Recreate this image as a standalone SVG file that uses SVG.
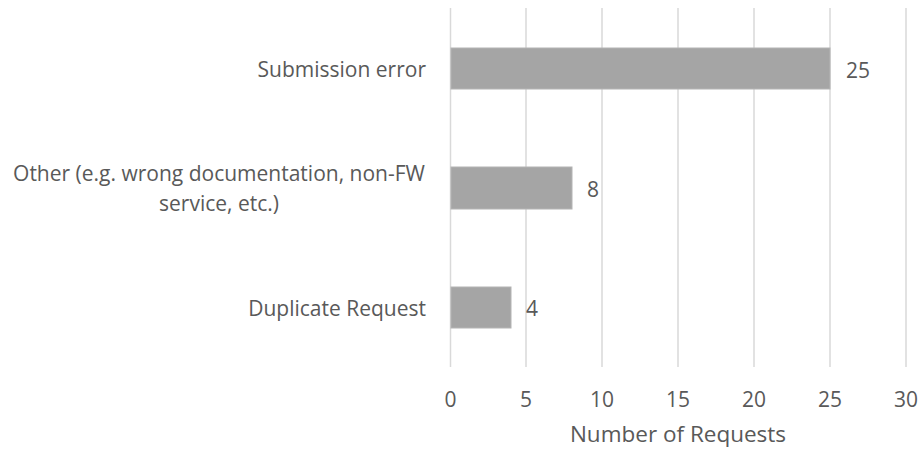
<svg xmlns="http://www.w3.org/2000/svg" width="923" height="452" viewBox="0 0 923 452">
  <style>
    text { font-family: "Open Sans", "Liberation Sans", sans-serif; fill: #595959; }
    .grid { stroke: #d9d9d9; stroke-width: 1.5; }
    .bar { fill: #a5a5a5; stroke: #b4b4b4; stroke-width: 1; }
    .cat { font-size: 21px; text-anchor: end; }
    .mid { text-anchor: middle; }
    .val { font-size: 21px; }
    .tick { font-size: 21px; text-anchor: middle; }
    .title { font-size: 22.5px; text-anchor: middle; }
  </style>
  <rect width="923" height="452" fill="#ffffff"/>

  <!-- vertical gridlines every 5 units (15.2 px per unit) -->
  <g id="gridlines">
    <line class="grid" x1="450.5" y1="8" x2="450.5" y2="367"/>
    <line class="grid" x1="526" y1="8" x2="526" y2="367"/>
    <line class="grid" x1="602" y1="8" x2="602" y2="367"/>
    <line class="grid" x1="678" y1="8" x2="678" y2="367"/>
    <line class="grid" x1="754" y1="8" x2="754" y2="367"/>
    <line class="grid" x1="830" y1="8" x2="830" y2="367"/>
    <line class="grid" x1="906" y1="8" x2="906" y2="367"/>
  </g>

  <g id="bar-submission-error">
    <rect class="bar" x="451" y="48" width="379" height="41"/>
    <text class="val" x="846" y="78">25</text>
    <text class="cat" x="426" y="77">Submission error</text>
  </g>

  <g id="bar-other">
    <rect class="bar" x="451" y="167" width="121" height="42"/>
    <text class="val" x="587" y="197">8</text>
    <text class="cat mid" x="219" y="181">Other (e.g. wrong documentation, non-FW</text>
    <text class="cat mid" x="219" y="211">service, etc.)</text>
  </g>

  <g id="bar-duplicate">
    <rect class="bar" x="451" y="287" width="60" height="41"/>
    <text class="val" x="526" y="316">4</text>
    <text class="cat" x="426" y="316">Duplicate Request</text>
  </g>

  <g id="axis">
    <text class="tick" x="450.5" y="407">0</text>
    <text class="tick" x="526" y="407">5</text>
    <text class="tick" x="602" y="407">10</text>
    <text class="tick" x="678" y="407">15</text>
    <text class="tick" x="754" y="407">20</text>
    <text class="tick" x="830" y="407">25</text>
    <text class="tick" x="906" y="407">30</text>
    <text class="title" x="678" y="442">Number of Requests</text>
  </g>
</svg>
